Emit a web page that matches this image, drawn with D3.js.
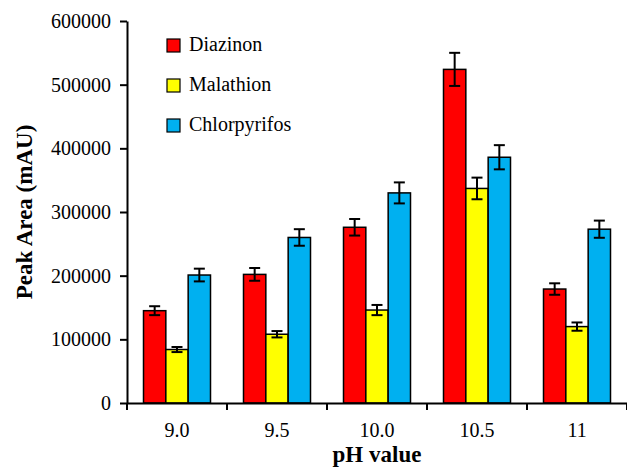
<!DOCTYPE html>
<html><head><meta charset="utf-8">
<script src="https://cdn.jsdelivr.net/npm/d3@7"></script>
<style>
body{margin:0;background:#fff;}
svg{display:block;font-family:"Liberation Serif","Times New Roman",serif;}
</style></head>
<body><svg id="chart" width="627" height="468"></svg>
<script>
const categories = ["9.0", "9.5", "10.0", "10.5", "11"];
const seriesNames = ["Diazinon", "Malathion", "Chlorpyrifos"];
const diazinon = [145000, 202000, 276000, 524000, 179000];
const diazinonErr = [7000, 10000, 13000, 26000, 9000];
const malathion = [84000, 108000, 146000, 337000, 120000];
const malathionErr = [4000, 5000, 8000, 17000, 6500];
const chlorpyrifos = [201000, 260000, 330000, 386000, 273000];
const chlorpyrifosErr = [10000, 13000, 16500, 19000, 13500];
const yTicks = [0, 100000, 200000, 300000, 400000, 500000, 600000];
const colors = ["#ff0000", "#ffff00", "#00b0f0"];

const values = [diazinon, malathion, chlorpyrifos];
const errors = [diazinonErr, malathionErr, chlorpyrifosErr];

const svg = d3.select("#chart");
const mLeft = 127, mRight = 627, mTop = 21, mBottom = 403;

const x = d3.scaleBand().domain(categories).range([mLeft, mRight]).padding(0);
const groupW = 67;
const x1 = d3.scaleBand().domain(seriesNames).range([(x.bandwidth() - groupW) / 2, (x.bandwidth() + groupW) / 2]).padding(0);
const y = d3.scaleLinear().domain([0, 600000]).range([mBottom, mTop]);

// Bars
const data = [];
categories.forEach((c, i) => {
  seriesNames.forEach((s, j) => {
    data.push({c, s, j, v: values[j][i], e: errors[j][i]});
  });
});

svg.append("g").selectAll("rect").data(data).join("rect")
  .attr("x", d => x(d.c) + x1(d.s))
  .attr("y", d => y(d.v))
  .attr("width", x1.bandwidth())
  .attr("height", d => y(0) - y(d.v))
  .attr("fill", d => colors[d.j])
  .attr("stroke", "#000")
  .attr("stroke-width", 1.5);

// Error bars
const eg = svg.append("g").attr("stroke", "#000").attr("stroke-width", 2);
const cap = 5.5;
data.forEach(d => {
  const cx = x(d.c) + x1(d.s) + x1.bandwidth() / 2;
  eg.append("line").attr("x1", cx).attr("x2", cx).attr("y1", y(d.v + d.e)).attr("y2", y(d.v - d.e));
  eg.append("line").attr("x1", cx - cap).attr("x2", cx + cap).attr("y1", y(d.v + d.e)).attr("y2", y(d.v + d.e));
  eg.append("line").attr("x1", cx - cap).attr("x2", cx + cap).attr("y1", y(d.v - d.e)).attr("y2", y(d.v - d.e));
});

// Y axis
const yAxis = svg.append("g").attr("transform", `translate(${mLeft},0)`)
  .call(d3.axisLeft(y).tickValues(yTicks).tickFormat(d3.format("d")).tickSize(7).tickSizeOuter(0).tickPadding(9));
yAxis.select(".domain").attr("stroke-width", 2);
yAxis.selectAll(".tick line").attr("stroke-width", 2);
yAxis.selectAll("text").attr("font-size", 20).attr("font-family", "Liberation Serif, Times New Roman, serif").attr("fill", "#000");

// X axis (labels centered, ticks at band boundaries)
const xAxis = svg.append("g").attr("transform", `translate(0,${mBottom})`)
  .call(d3.axisBottom(x).tickSize(0).tickSizeOuter(0).tickPadding(20));
xAxis.select(".domain").attr("stroke-width", 2);
xAxis.selectAll("text").attr("font-size", 20).attr("font-family", "Liberation Serif, Times New Roman, serif").attr("fill", "#000");
const boundaries = categories.map(c => x(c)).concat([x(categories[categories.length - 1]) + x.step()]);
xAxis.selectAll(".bt").data(boundaries).join("line").attr("class", "bt")
  .attr("x1", d => d).attr("x2", d => d).attr("y1", 0).attr("y2", 7)
  .attr("stroke", "#000").attr("stroke-width", 2);

// Axis titles
svg.append("text").attr("x", (mLeft + mRight) / 2).attr("y", 462)
  .attr("text-anchor", "middle").attr("font-weight", "bold").attr("font-size", 23)
  .text("pH value");
svg.append("text").attr("transform", `translate(32,${(mTop + mBottom) / 2}) rotate(-90)`)
  .attr("text-anchor", "middle").attr("font-weight", "bold").attr("font-size", 23)
  .text("Peak Area (mAU)");

// Legend
const lg = svg.append("g");
seriesNames.forEach((s, i) => {
  const yy = 39 + i * 40;
  lg.append("rect").attr("x", 167).attr("y", yy).attr("width", 13).attr("height", 13)
    .attr("fill", colors[i]).attr("stroke", "#000").attr("stroke-width", 1.2);
  lg.append("text").attr("x", 189).attr("y", yy + 12).attr("font-size", 20).text(s);
});
</script></body></html>
